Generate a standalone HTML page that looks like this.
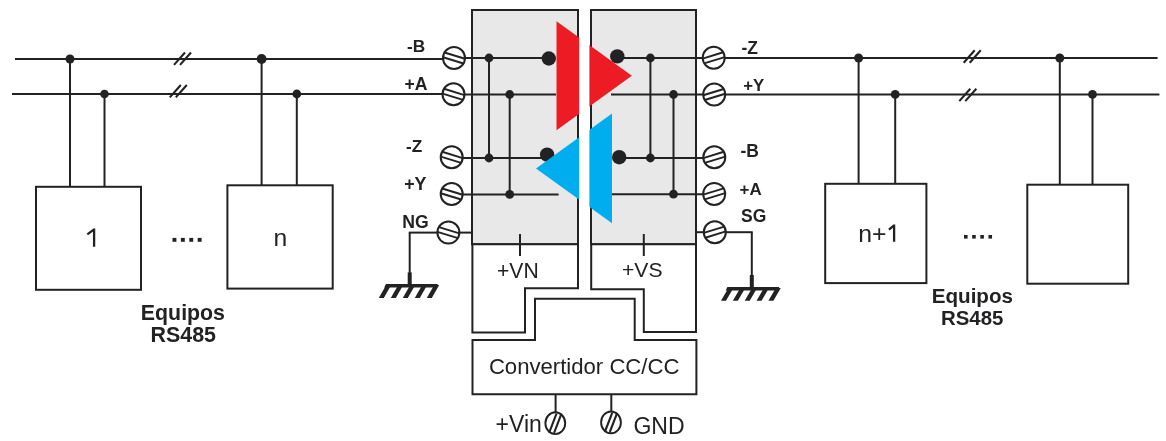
<!DOCTYPE html>
<html><head><meta charset="utf-8"><style>
html,body{margin:0;padding:0;background:#fff;}
svg{display:block;will-change:transform;}
text{font-family:"Liberation Sans",sans-serif;}
</style></head><body>
<svg width="1166" height="441" viewBox="0 0 1166 441">
<rect width="1166" height="441" fill="#fff"/>
<line x1="15" y1="59.0" x2="443" y2="59.0" stroke="#222224" stroke-width="2.0" stroke-linecap="butt"/>
<line x1="12" y1="94.0" x2="443" y2="94.0" stroke="#222224" stroke-width="2.0" stroke-linecap="butt"/>
<line x1="174.0" y1="64.9" x2="185.0" y2="52.5" stroke="#222224" stroke-width="2.1"/>
<line x1="180.0" y1="64.9" x2="191.0" y2="52.5" stroke="#222224" stroke-width="2.1"/>
<line x1="169.8" y1="97.4" x2="180.8" y2="85.0" stroke="#222224" stroke-width="2.1"/>
<line x1="175.8" y1="97.4" x2="186.8" y2="85.0" stroke="#222224" stroke-width="2.1"/>
<line x1="70" y1="59.0" x2="70" y2="186.8" stroke="#222224" stroke-width="2.0" stroke-linecap="butt"/>
<circle cx="70" cy="59.0" r="4.5" fill="#222224"/>
<line x1="104.5" y1="94.0" x2="104.5" y2="186.8" stroke="#222224" stroke-width="2.0" stroke-linecap="butt"/>
<circle cx="104.5" cy="94.0" r="4.3" fill="#222224"/>
<line x1="261.6" y1="59.0" x2="261.6" y2="185.3" stroke="#222224" stroke-width="2.0" stroke-linecap="butt"/>
<circle cx="261.6" cy="59.0" r="4.9" fill="#222224"/>
<line x1="296.8" y1="94.0" x2="296.8" y2="185.3" stroke="#222224" stroke-width="2.0" stroke-linecap="butt"/>
<circle cx="296.8" cy="94.0" r="4.4" fill="#222224"/>
<rect x="36" y="186.8" width="105" height="103.0" fill="none" stroke="#222224" stroke-width="2.0"/>
<rect x="227.4" y="185.3" width="105.29999999999998" height="103.30000000000001" fill="none" stroke="#222224" stroke-width="2.0"/>
<path d="M94.1 228.6 V246.7 M94.1 229.4 L87.3 234.4" stroke="#222224" stroke-width="2.3" fill="none"/>
<text x="280.30" y="246.10" font-size="24.70" font-weight="normal" text-anchor="middle" fill="#222224" >n</text>
<rect x="172.5" y="237.9" width="3.9" height="3.9" fill="#222224"/>
<rect x="180.9" y="237.9" width="3.9" height="3.9" fill="#222224"/>
<rect x="189.3" y="237.9" width="3.9" height="3.9" fill="#222224"/>
<rect x="197.7" y="237.9" width="3.9" height="3.9" fill="#222224"/>
<text x="182.92" y="319.60" font-size="21.34" font-weight="bold" text-anchor="middle" fill="#222224" >Equipos</text>
<text x="183.29" y="341.80" font-size="21.42" font-weight="bold" text-anchor="middle" fill="#222224" >RS485</text>
<line x1="725" y1="58.0" x2="1157.6" y2="58.0" stroke="#222224" stroke-width="2.0" stroke-linecap="butt"/>
<line x1="725" y1="94.4" x2="1159.4" y2="94.4" stroke="#222224" stroke-width="2.0" stroke-linecap="butt"/>
<line x1="963.7" y1="62.7" x2="974.7" y2="50.3" stroke="#222224" stroke-width="2.1"/>
<line x1="969.7" y1="62.7" x2="980.7" y2="50.3" stroke="#222224" stroke-width="2.1"/>
<line x1="959.3" y1="101.10000000000001" x2="970.3" y2="88.7" stroke="#222224" stroke-width="2.1"/>
<line x1="965.3" y1="101.10000000000001" x2="976.3" y2="88.7" stroke="#222224" stroke-width="2.1"/>
<line x1="858.6" y1="58.0" x2="858.6" y2="183.8" stroke="#222224" stroke-width="2.0" stroke-linecap="butt"/>
<circle cx="858.6" cy="58.0" r="4.5" fill="#222224"/>
<line x1="895.2" y1="94.4" x2="895.2" y2="183.8" stroke="#222224" stroke-width="2.0" stroke-linecap="butt"/>
<circle cx="895.2" cy="94.4" r="4.4" fill="#222224"/>
<line x1="1059.8" y1="58.0" x2="1059.8" y2="184.7" stroke="#222224" stroke-width="2.0" stroke-linecap="butt"/>
<circle cx="1059.8" cy="58.0" r="4.5" fill="#222224"/>
<line x1="1092.5" y1="94.4" x2="1092.5" y2="184.7" stroke="#222224" stroke-width="2.0" stroke-linecap="butt"/>
<circle cx="1092.5" cy="94.4" r="4.4" fill="#222224"/>
<rect x="825.2" y="183.8" width="101.19999999999993" height="99.30000000000001" fill="none" stroke="#222224" stroke-width="2.0"/>
<rect x="1027.3" y="184.7" width="100.90000000000009" height="99.0" fill="none" stroke="#222224" stroke-width="2.0"/>
<text x="872.30" y="242.10" font-size="24.82" font-weight="normal" text-anchor="middle" fill="#222224" >n+</text>
<path d="M894.1 224.6 V241.8 M894.1 225.4 L888.9 229.6" stroke="#222224" stroke-width="2.3" fill="none"/>
<rect x="964.0" y="235" width="3.6" height="3.6" fill="#222224"/>
<rect x="972.15" y="235" width="3.6" height="3.6" fill="#222224"/>
<rect x="980.3" y="235" width="3.6" height="3.6" fill="#222224"/>
<rect x="988.45" y="235" width="3.6" height="3.6" fill="#222224"/>
<text x="972.36" y="303.30" font-size="20.61" font-weight="bold" text-anchor="middle" fill="#222224" >Equipos</text>
<text x="972.23" y="325.00" font-size="20.41" font-weight="bold" text-anchor="middle" fill="#222224" >RS485</text>
<rect x="472" y="10" width="106" height="234.3" fill="#e8e8e9" stroke="#222224" stroke-width="2.0"/>
<rect x="591" y="10" width="105" height="234.3" fill="#e8e8e9" stroke="#222224" stroke-width="2.0"/>
<line x1="465" y1="58.0" x2="549" y2="58.0" stroke="#222224" stroke-width="2.0" stroke-linecap="butt"/>
<line x1="465" y1="94.5" x2="556" y2="94.5" stroke="#222224" stroke-width="2.0" stroke-linecap="butt"/>
<line x1="462" y1="158.0" x2="547" y2="158.0" stroke="#222224" stroke-width="2.0" stroke-linecap="butt"/>
<line x1="462" y1="194.4" x2="558.6" y2="194.4" stroke="#222224" stroke-width="2.0" stroke-linecap="butt"/>
<line x1="459" y1="232.6" x2="472" y2="232.6" stroke="#222224" stroke-width="2.0" stroke-linecap="butt"/>
<line x1="489" y1="58.0" x2="489" y2="158.0" stroke="#222224" stroke-width="2.0" stroke-linecap="butt"/>
<circle cx="489" cy="58.0" r="4.4" fill="#222224"/>
<circle cx="489" cy="158.0" r="4.4" fill="#222224"/>
<line x1="509.7" y1="94.5" x2="509.7" y2="194.4" stroke="#222224" stroke-width="2.0" stroke-linecap="butt"/>
<circle cx="509.7" cy="94.5" r="4.4" fill="#222224"/>
<circle cx="509.7" cy="194.4" r="4.4" fill="#222224"/>
<circle cx="548.8" cy="58.5" r="7.2" fill="#222224"/>
<circle cx="547.1" cy="154.6" r="7.2" fill="#222224"/>
<line x1="617" y1="58.0" x2="703" y2="58.0" stroke="#222224" stroke-width="2.0" stroke-linecap="butt"/>
<line x1="611" y1="94.5" x2="703" y2="94.5" stroke="#222224" stroke-width="2.0" stroke-linecap="butt"/>
<line x1="619" y1="158.0" x2="704" y2="158.0" stroke="#222224" stroke-width="2.0" stroke-linecap="butt"/>
<line x1="611" y1="194.2" x2="704" y2="194.2" stroke="#222224" stroke-width="2.0" stroke-linecap="butt"/>
<line x1="696" y1="232.2" x2="705" y2="232.2" stroke="#222224" stroke-width="2.0" stroke-linecap="butt"/>
<line x1="650.4" y1="58.0" x2="650.4" y2="158.0" stroke="#222224" stroke-width="2.0" stroke-linecap="butt"/>
<circle cx="650.4" cy="58.0" r="4.4" fill="#222224"/>
<circle cx="650.4" cy="158.0" r="4.4" fill="#222224"/>
<line x1="673.5" y1="94.5" x2="673.5" y2="194.2" stroke="#222224" stroke-width="2.0" stroke-linecap="butt"/>
<circle cx="673.5" cy="94.5" r="4.4" fill="#222224"/>
<circle cx="673.5" cy="194.2" r="4.4" fill="#222224"/>
<circle cx="617.3" cy="56.4" r="7.2" fill="#222224"/>
<circle cx="619.2" cy="157.2" r="7.2" fill="#222224"/>
<polygon points="556.5,21.3 556.5,130.3 631.8,75.8" fill="#ed1c24" stroke="none" stroke-linejoin="miter"/>
<polygon points="612,113.6 612,223.2 536.0,168.4" fill="#00aeef" stroke="none" stroke-linejoin="miter"/>
<rect x="579.2" y="0" width="10.2" height="243" fill="#fff"/>
<circle cx="454" cy="58.0" r="11.0" fill="#fff" stroke="#222224" stroke-width="2.0"/>
<line x1="444.49" y1="52.48" x2="464.98" y2="58.74" stroke="#222224" stroke-width="1.9"/>
<line x1="443.02" y1="57.26" x2="463.51" y2="63.52" stroke="#222224" stroke-width="1.9"/>
<circle cx="453.5" cy="94.3" r="11.0" fill="#fff" stroke="#222224" stroke-width="2.0"/>
<line x1="443.99" y1="88.78" x2="464.48" y2="95.04" stroke="#222224" stroke-width="1.9"/>
<line x1="442.52" y1="93.56" x2="463.01" y2="99.82" stroke="#222224" stroke-width="1.9"/>
<circle cx="451.7" cy="157.3" r="11.0" fill="#fff" stroke="#222224" stroke-width="2.0"/>
<line x1="442.19" y1="151.78" x2="462.68" y2="158.04" stroke="#222224" stroke-width="1.9"/>
<line x1="440.72" y1="156.56" x2="461.21" y2="162.82" stroke="#222224" stroke-width="1.9"/>
<circle cx="451.7" cy="194.0" r="11.0" fill="#fff" stroke="#222224" stroke-width="2.0"/>
<line x1="442.19" y1="188.48" x2="462.68" y2="194.74" stroke="#222224" stroke-width="1.9"/>
<line x1="440.72" y1="193.26" x2="461.21" y2="199.52" stroke="#222224" stroke-width="1.9"/>
<circle cx="448.4" cy="232.6" r="11.0" fill="#fff" stroke="#222224" stroke-width="2.0"/>
<line x1="438.89" y1="227.08" x2="459.38" y2="233.34" stroke="#222224" stroke-width="1.9"/>
<line x1="437.42" y1="231.86" x2="457.91" y2="238.12" stroke="#222224" stroke-width="1.9"/>
<circle cx="713.7" cy="57.8" r="11.0" fill="#fff" stroke="#222224" stroke-width="2.0"/>
<line x1="702.72" y1="58.54" x2="723.21" y2="52.28" stroke="#222224" stroke-width="1.9"/>
<line x1="704.19" y1="63.32" x2="724.68" y2="57.06" stroke="#222224" stroke-width="1.9"/>
<circle cx="714.2" cy="94.5" r="11.0" fill="#fff" stroke="#222224" stroke-width="2.0"/>
<line x1="703.22" y1="95.24" x2="723.71" y2="88.98" stroke="#222224" stroke-width="1.9"/>
<line x1="704.69" y1="100.02" x2="725.18" y2="93.76" stroke="#222224" stroke-width="1.9"/>
<circle cx="714.3" cy="157.3" r="11.0" fill="#fff" stroke="#222224" stroke-width="2.0"/>
<line x1="703.32" y1="158.04" x2="723.81" y2="151.78" stroke="#222224" stroke-width="1.9"/>
<line x1="704.79" y1="162.82" x2="725.28" y2="156.56" stroke="#222224" stroke-width="1.9"/>
<circle cx="714.2" cy="193.9" r="11.0" fill="#fff" stroke="#222224" stroke-width="2.0"/>
<line x1="703.22" y1="194.64" x2="723.71" y2="188.38" stroke="#222224" stroke-width="1.9"/>
<line x1="704.69" y1="199.42" x2="725.18" y2="193.16" stroke="#222224" stroke-width="1.9"/>
<circle cx="714.8" cy="232.2" r="11.0" fill="#fff" stroke="#222224" stroke-width="2.0"/>
<line x1="703.82" y1="232.94" x2="724.31" y2="226.68" stroke="#222224" stroke-width="1.9"/>
<line x1="705.29" y1="237.72" x2="725.78" y2="231.46" stroke="#222224" stroke-width="1.9"/>
<text x="416.06" y="52.20" font-size="17.24" font-weight="bold" text-anchor="middle" fill="#222224" >-B</text>
<text x="415.97" y="90.30" font-size="17.61" font-weight="bold" text-anchor="middle" fill="#222224" >+A</text>
<text x="414.13" y="152.00" font-size="17.21" font-weight="bold" text-anchor="middle" fill="#222224" >-Z</text>
<text x="415.35" y="189.50" font-size="17.85" font-weight="bold" text-anchor="middle" fill="#222224" >+Y</text>
<text x="415.58" y="228.00" font-size="17.61" font-weight="bold" text-anchor="middle" fill="#222224" >NG</text>
<text x="749.81" y="54.00" font-size="17.46" font-weight="bold" text-anchor="middle" fill="#222224" >-Z</text>
<text x="753.73" y="90.80" font-size="16.80" font-weight="bold" text-anchor="middle" fill="#222224" >+Y</text>
<text x="749.70" y="157.20" font-size="17.43" font-weight="bold" text-anchor="middle" fill="#222224" >-B</text>
<text x="750.64" y="195.10" font-size="16.90" font-weight="bold" text-anchor="middle" fill="#222224" >+A</text>
<text x="753.72" y="222.39" font-size="17.49" font-weight="bold" text-anchor="middle" fill="#222224" >SG</text>
<line x1="437.5" y1="232.6" x2="408.8" y2="232.6" stroke="#222224" stroke-width="2.0" stroke-linecap="butt"/>
<line x1="409.7" y1="232.6" x2="409.7" y2="272.9" stroke="#222224" stroke-width="2.0" stroke-linecap="butt"/>
<line x1="409.7" y1="272.4" x2="409.7" y2="285.1" stroke="#222224" stroke-width="4.0" stroke-linecap="butt"/>
<polygon points="386.0,284.1 437.9,284.1 436.10,287.5 384.20,287.5" fill="#222224"/>
<polygon points="378.80,298.0 383.80,298.0 391.20,285.1 386.20,285.1" fill="#222224"/>
<polygon points="390.80,298.0 395.80,298.0 403.20,285.1 398.20,285.1" fill="#222224"/>
<polygon points="402.80,298.0 407.80,298.0 415.20,285.1 410.20,285.1" fill="#222224"/>
<polygon points="414.80,298.0 419.80,298.0 427.20,285.1 422.20,285.1" fill="#222224"/>
<polygon points="426.80,298.0 431.80,298.0 439.20,285.1 434.20,285.1" fill="#222224"/>
<line x1="725.5" y1="232.2" x2="752.7" y2="232.2" stroke="#222224" stroke-width="2.0" stroke-linecap="butt"/>
<line x1="751.8" y1="232.2" x2="751.8" y2="275.5" stroke="#222224" stroke-width="2.0" stroke-linecap="butt"/>
<line x1="751.8" y1="275.0" x2="751.8" y2="288.1" stroke="#222224" stroke-width="4.0" stroke-linecap="butt"/>
<polygon points="727.4,287.1 779.3,287.1 777.50,290.5 725.60,290.5" fill="#222224"/>
<polygon points="721.00,300.8 726.00,300.8 733.40,288.1 728.40,288.1" fill="#222224"/>
<polygon points="732.85,300.8 737.85,300.8 745.25,288.1 740.25,288.1" fill="#222224"/>
<polygon points="744.70,300.8 749.70,300.8 757.10,288.1 752.10,288.1" fill="#222224"/>
<polygon points="756.55,300.8 761.55,300.8 768.95,288.1 763.95,288.1" fill="#222224"/>
<polygon points="768.40,300.8 773.40,300.8 780.80,288.1 775.80,288.1" fill="#222224"/>
<polygon points="472.4,244.3 578,244.3 578,288.2 525,288.2 525,332.6 472.4,332.6" fill="#fff" stroke="#222224" stroke-width="2.0" stroke-linejoin="miter"/>
<polygon points="591.2,244.3 696,244.3 696,332 643.8,332 643.8,289.2 591.2,289.2" fill="#fff" stroke="#222224" stroke-width="2.0" stroke-linejoin="miter"/>
<line x1="520" y1="234" x2="520" y2="256" stroke="#222224" stroke-width="2.0" stroke-linecap="butt"/>
<line x1="643.8" y1="234" x2="643.8" y2="256" stroke="#222224" stroke-width="2.0" stroke-linecap="butt"/>
<text x="517.80" y="278.00" font-size="21.16" font-weight="normal" text-anchor="middle" fill="#222224" >+VN</text>
<text x="642.27" y="277.40" font-size="21.13" font-weight="normal" text-anchor="middle" fill="#222224" >+VS</text>
<polygon points="472.5,340 535,340 535,298.8 634.7,298.8 634.7,340 696.4,340 696.4,394.3 472.5,394.3" fill="#fff" stroke="#222224" stroke-width="2.0" stroke-linejoin="miter"/>
<text x="584.17" y="374.40" font-size="22.14" font-weight="normal" text-anchor="middle" fill="#222224" >Convertidor CC/CC</text>
<line x1="555.6" y1="394" x2="555.6" y2="412" stroke="#222224" stroke-width="2.0" stroke-linecap="butt"/>
<line x1="611.3" y1="394" x2="611.3" y2="411.5" stroke="#222224" stroke-width="2.0" stroke-linecap="butt"/>
<ellipse cx="555.3" cy="423.2" rx="9.9" ry="10.9" fill="#fff" stroke="#222224" stroke-width="1.9"/>
<line x1="549.0999999999999" y1="432.8" x2="556.5" y2="413.59999999999997" stroke="#222224" stroke-width="2.1"/>
<line x1="554.0999999999999" y1="432.8" x2="561.5" y2="413.59999999999997" stroke="#222224" stroke-width="2.1"/>
<ellipse cx="611" cy="422.4" rx="9.9" ry="10.9" fill="#fff" stroke="#222224" stroke-width="1.9"/>
<line x1="604.8" y1="432.0" x2="612.2" y2="412.79999999999995" stroke="#222224" stroke-width="2.1"/>
<line x1="609.8" y1="432.0" x2="617.2" y2="412.79999999999995" stroke="#222224" stroke-width="2.1"/>
<text x="518.67" y="432.10" font-size="23.00" font-weight="normal" text-anchor="middle" fill="#222224" >+Vin</text>
<text x="659.00" y="434.00" font-size="23.07" font-weight="normal" text-anchor="middle" fill="#222224" >GND</text>
</svg>
</body></html>
